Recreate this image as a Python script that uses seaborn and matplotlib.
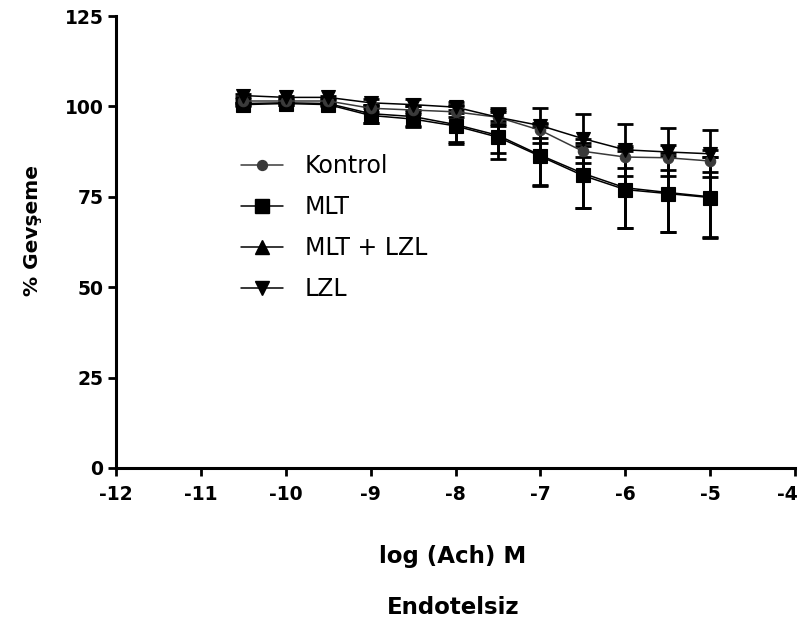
import numpy as np
import pandas as pd
import matplotlib
matplotlib.use("Agg")
import matplotlib.pyplot as plt
import matplotlib.transforms as mtransforms
import seaborn as sns
from matplotlib.lines import Line2D

log_ach = [-10.5, -10, -9.5, -9, -8.5, -8, -7.5, -7, -6.5, -6, -5.5, -5]
kontrol = [101.5, 101.5, 101.5, 99.5, 99.0, 98.5, 97.0, 93.4, 87.6, 86.0, 85.8, 84.9]
kontrol_sem = [0.5, 0.5, 0.5, 1.0, 1.2, 1.5, 2.0, 2.0, 1.5, 3.0, 3.5, 3.0]
mlt = [100.5, 100.8, 100.5, 97.5, 96.5, 94.6, 91.5, 86.2, 80.9, 77.0, 75.9, 74.8]
mlt_sem = [0.5, 0.5, 0.5, 2.0, 2.0, 4.5, 4.5, 8.0, 9.0, 10.7, 10.5, 11.2]
mlt_lzl = [100.8, 101.0, 100.8, 98.0, 97.2, 95.0, 92.0, 86.5, 81.5, 77.5, 76.2, 75.0]
mlt_lzl_sem = [0.5, 0.5, 0.5, 2.5, 3.0, 5.5, 6.5, 8.5, 9.5, 11.0, 11.0, 11.0]
lzl = [103.0, 102.5, 102.5, 101.0, 100.5, 99.8, 97.0, 94.7, 91.1, 88.0, 87.4, 86.9]
lzl_sem = [0.5, 0.5, 0.5, 1.0, 1.5, 1.5, 2.5, 4.8, 6.7, 7.2, 6.7, 6.5]

groups = ["Kontrol", "MLT", "MLT + LZL", "LZL"]
means = [kontrol, mlt, mlt_lzl, lzl]
sems = [kontrol_sem, mlt_sem, mlt_lzl_sem, lzl_sem]

x_ticks = [-12, -11, -10, -9, -8, -7, -6, -5, -4]
y_ticks = [0, 25, 50, 75, 100, 125]

rows = []
for g, m, s in zip(groups, means, sems):
    for xv, mv, sv in zip(log_ach, m, s):
        rows.append({"x": xv, "y": mv, "err": sv, "grup": g})
df = pd.DataFrame(rows)

sns.set_theme(style="ticks")
plt.rcParams['font.family'] = ['DejaVu Sans']
plt.rcParams['axes.unicode_minus'] = False
plt.rcParams['text.color'] = 'black'
plt.rcParams['axes.labelcolor'] = 'black'
plt.rcParams['xtick.color'] = 'black'
plt.rcParams['ytick.color'] = 'black'
plt.rcParams['xtick.labelcolor'] = 'black'
plt.rcParams['ytick.labelcolor'] = 'black'

fig = plt.figure(figsize=(8.03, 6.26), dpi=100)
ax = fig.add_axes([0.1445, 0.2524, 0.8455, 0.722])

colors = {"Kontrol": "#3a3a3a", "MLT": "black", "MLT + LZL": "black", "LZL": "black"}
markers = {"Kontrol": "o", "MLT": "s", "MLT + LZL": "^", "LZL": "v"}
msizes = {"Kontrol": 7.5, "MLT": 10, "MLT + LZL": 10, "LZL": 10}
lws = {"Kontrol": 1.1, "MLT": 1.1, "MLT + LZL": 1.1, "LZL": 1.1}

order_draw = ["MLT + LZL", "MLT", "Kontrol", "LZL"]
for g in order_draw:
    d = df[df["grup"] == g]
    ax.errorbar(d["x"], d["y"], yerr=d["err"], fmt='none', ecolor='black',
                elinewidth=2.0, capsize=5.5, capthick=2.0, zorder=2)
for g in order_draw:
    d = df[df["grup"] == g]
    sns.lineplot(data=d, x="x", y="y", ax=ax, color=colors[g], marker=markers[g],
                 markersize=msizes[g], markeredgecolor=colors[g], markeredgewidth=0.8,
                 linewidth=lws[g], legend=False, zorder=3)

ax.set_xlim(-12, -4)
ax.set_ylim(0, 125)
ax.set_xticks(x_ticks)
ax.set_yticks(y_ticks)
ax.set_xticklabels([str(t) for t in x_ticks])
ax.set_yticklabels([str(t) for t in y_ticks])
for lab in ax.get_xticklabels() + ax.get_yticklabels():
    lab.set_fontweight('bold')
    lab.set_fontsize(13.5)
    lab.set_color('black')
ax.tick_params(axis='both', direction='out', length=6, width=2, color='black')
ax.tick_params(axis='y', pad=3)
ax.tick_params(axis='x', pad=6)
last = ax.get_xticklabels()[-1]
last.set_transform(last.get_transform() + mtransforms.ScaledTranslation(-8 / 100, 0, fig.dpi_scale_trans))
sns.despine(ax=ax)
for sp in ['left', 'bottom']:
    ax.spines[sp].set_linewidth(2.2)
    ax.spines[sp].set_color('black')

ax.set_xlabel("")
ax.set_ylabel("")
fig.text(33 / 803, 1 - 231 / 626, "% Gevşeme", rotation=90, ha='center', va='center',
         fontsize=14.5, fontweight='bold', color='black')
fig.text(453 / 803, 1 - 556 / 626, "log (Ach) M", ha='center', va='center', fontsize=16.5,
         fontweight='bold', color='black')
fig.text(453 / 803, 1 - 608 / 626, "Endotelsiz", ha='center', va='center', fontsize=16.5,
         fontweight='bold', color='black')

handles = [Line2D([0], [0], color=colors[g], marker=markers[g], markersize=msizes[g] * 0.95,
                  linewidth=1.1, markeredgecolor=colors[g]) for g in groups]
leg = ax.legend(handles, groups, loc='upper left', bbox_to_anchor=(241 / 803, 1 - 154 / 626),
                bbox_transform=fig.transFigure, frameon=False, borderpad=0, borderaxespad=0,
                fontsize=17, handlelength=1.8, handletextpad=0.9, labelspacing=0.72)
for t in leg.get_texts():
    t.set_color('black')

fig.savefig("out.png", dpi=100)
